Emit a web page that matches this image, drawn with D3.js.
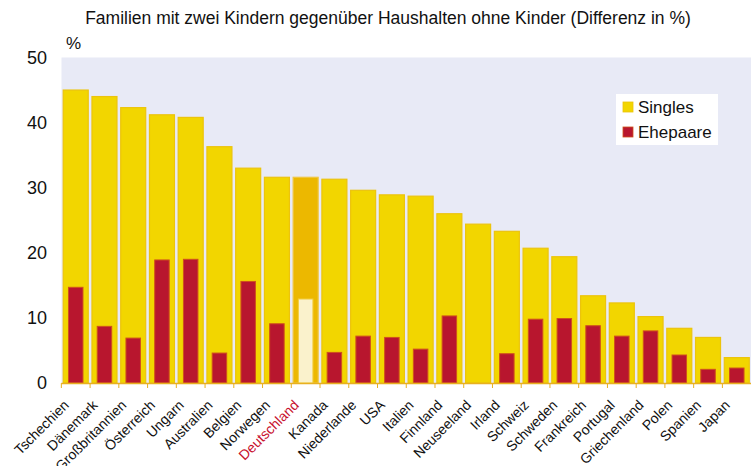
<!DOCTYPE html>
<html>
<head>
<meta charset="utf-8">
<script src="https://cdnjs.cloudflare.com/ajax/libs/d3/7.8.5/d3.min.js"></script>
<style>
  body { margin: 0; background: #fff; }
  text { font-family: "Liberation Sans", Arial, sans-serif; }
</style>
</head>
<body>
<div id="chart"></div>
<script>
// Länder und Werte (Differenz in %)
var laender = ["Tschechien", "Dänemark", "Großbritannien", "Österreich", "Ungarn", "Australien",
  "Belgien", "Norwegen", "Deutschland", "Kanada", "Niederlande", "USA", "Italien", "Finnland",
  "Neuseeland", "Irland", "Schweiz", "Schweden", "Frankreich", "Portugal", "Griechenland",
  "Polen", "Spanien", "Japan"];
var singles = [45.0, 44.0, 42.3, 41.2, 40.8, 36.3, 33.0, 31.6, 31.6, 31.3, 29.6, 28.9, 28.7, 26.0,
  24.4, 23.3, 20.7, 19.4, 13.4, 12.3, 10.2, 8.4, 7.0, 3.9];
var ehepaare = [14.7, 8.7, 6.9, 18.9, 19.0, 4.6, 15.6, 9.1, 12.9, 4.7, 7.2, 7.0, 5.2, 10.3,
  0, 4.5, 9.8, 9.9, 8.8, 7.2, 8.0, 4.3, 2.1, 2.3];
var yTicks = [0, 10, 20, 30, 40, 50];
var serien = ["Singles", "Ehepaare"];

var width = 751, height = 466;
var margin = {top: 57.5, right: 0, bottom: 83, left: 61.5};

var svg = d3.select("#chart").append("svg")
  .attr("width", width)
  .attr("height", height);

var x = d3.scaleBand()
  .domain(laender)
  .range([margin.left, width - margin.right])
  .paddingInner(0.13)
  .paddingOuter(0.06);

var y = d3.scaleLinear()
  .domain([0, 50])
  .range([height - margin.bottom, margin.top]);

// Hintergrund der Zeichenfläche
svg.append("rect")
  .attr("x", margin.left)
  .attr("y", margin.top)
  .attr("width", width - margin.left - margin.right)
  .attr("height", y(0) - margin.top)
  .style("fill", "#e8eaf6");

// Titel
svg.append("text")
  .attr("x", 388)
  .attr("y", 24)
  .attr("text-anchor", "middle")
  .style("font-size", "17.5px")
  .style("fill", "#111")
  .text("Familien mit zwei Kindern gegenüber Haushalten ohne Kinder (Differenz in %)");

svg.append("text")
  .attr("x", 66)
  .attr("y", 49)
  .style("font-size", "17px")
  .style("fill", "#111")
  .text("%");

// Y-Achse (nur Beschriftung)
svg.append("g")
  .selectAll("text")
  .data(yTicks)
  .enter()
  .append("text")
  .attr("x", 47)
  .attr("y", function(d) { return y(d); })
  .attr("dy", "0.36em")
  .attr("text-anchor", "end")
  .style("font-size", "18px")
  .style("fill", "#111")
  .text(function(d) { return d; });

var istDE = function(d) { return d === "Deutschland"; };

// Singles-Balken
svg.append("g")
  .selectAll("rect")
  .data(laender)
  .enter()
  .append("rect")
  .attr("x", function(d) { return x(d); })
  .attr("y", function(d, i) { return y(singles[i]); })
  .attr("width", x.bandwidth())
  .attr("height", function(d, i) { return y(0) - y(singles[i]); })
  .style("fill", function(d) { return istDE(d) ? "#ecb800" : "#f2d600"; })
  .style("stroke", function(d) { return istDE(d) ? "#f0c640" : "#ecc40c"; })
  .style("stroke-width", "1.2px");

// Ehepaare-Balken
var rw = x.bandwidth() * 0.58;
svg.append("g")
  .selectAll("rect")
  .data(laender)
  .enter()
  .append("rect")
  .filter(function(d, i) { return ehepaare[i] > 0; })
  .attr("x", function(d) { return x(d) + (x.bandwidth() - rw) / 2; })
  .attr("y", function(d) { return y(ehepaare[laender.indexOf(d)]); })
  .attr("width", rw)
  .attr("height", function(d) { return y(0) - y(ehepaare[laender.indexOf(d)]); })
  .style("fill", function(d) { return istDE(d) ? "#faf2cc" : "#b8162e"; })
  .style("stroke", function(d) { return istDE(d) ? "#f2ce40" : "#d0501c"; })
  .style("stroke-width", "1px");

// X-Achse: Linie und Striche an den Bandgrenzen
var axisCol = "#e8b020";
svg.append("line")
  .attr("x1", margin.left)
  .attr("x2", width)
  .attr("y1", y(0) + 0.5)
  .attr("y2", y(0) + 0.5)
  .style("stroke", axisCol)
  .style("stroke-width", "1.5px");

var step = x.step();
svg.append("g")
  .selectAll("line")
  .data(laender)
  .enter()
  .append("line")
  .attr("x1", function(d) { return x(d) - step * x.paddingInner() / 2; })
  .attr("x2", function(d) { return x(d) - step * x.paddingInner() / 2; })
  .attr("y1", y(0))
  .attr("y2", y(0) + 5)
  .style("stroke", axisCol)
  .style("stroke-width", "1px");

// Länderbeschriftung, 45° gedreht
svg.append("g")
  .selectAll("text")
  .data(laender)
  .enter()
  .append("text")
  .attr("text-anchor", "end")
  .attr("transform", function(d) {
    var cx = x(d) + x.bandwidth() / 2 - 6;
    return "translate(" + cx + "," + (y(0) + 23) + ") rotate(-45)";
  })
  .style("font-size", "14px")
  .style("fill", function(d) { return istDE(d) ? "#c8102e" : "#111"; })
  .text(function(d) { return d; });

// Legende
var legend = svg.append("g").attr("transform", "translate(616,94)");
legend.append("rect")
  .attr("width", 102)
  .attr("height", 51)
  .style("fill", "#fff");

var items = legend.selectAll("g")
  .data(serien)
  .enter()
  .append("g")
  .attr("transform", function(d, i) { return "translate(7," + (8 + i * 25) + ")"; });

items.append("rect")
  .attr("width", 10)
  .attr("height", 10)
  .style("fill", function(d, i) { return i === 0 ? "#f2d600" : "#b8162e"; })
  .style("stroke", function(d, i) { return i === 0 ? "#ecc40c" : "#d0501c"; })
  .style("stroke-width", "0.8px");

items.append("text")
  .attr("x", 15)
  .attr("y", 5)
  .attr("dy", "0.36em")
  .style("font-size", "17px")
  .style("fill", "#111")
  .text(function(d) { return d; });
</script>
</body>
</html>
